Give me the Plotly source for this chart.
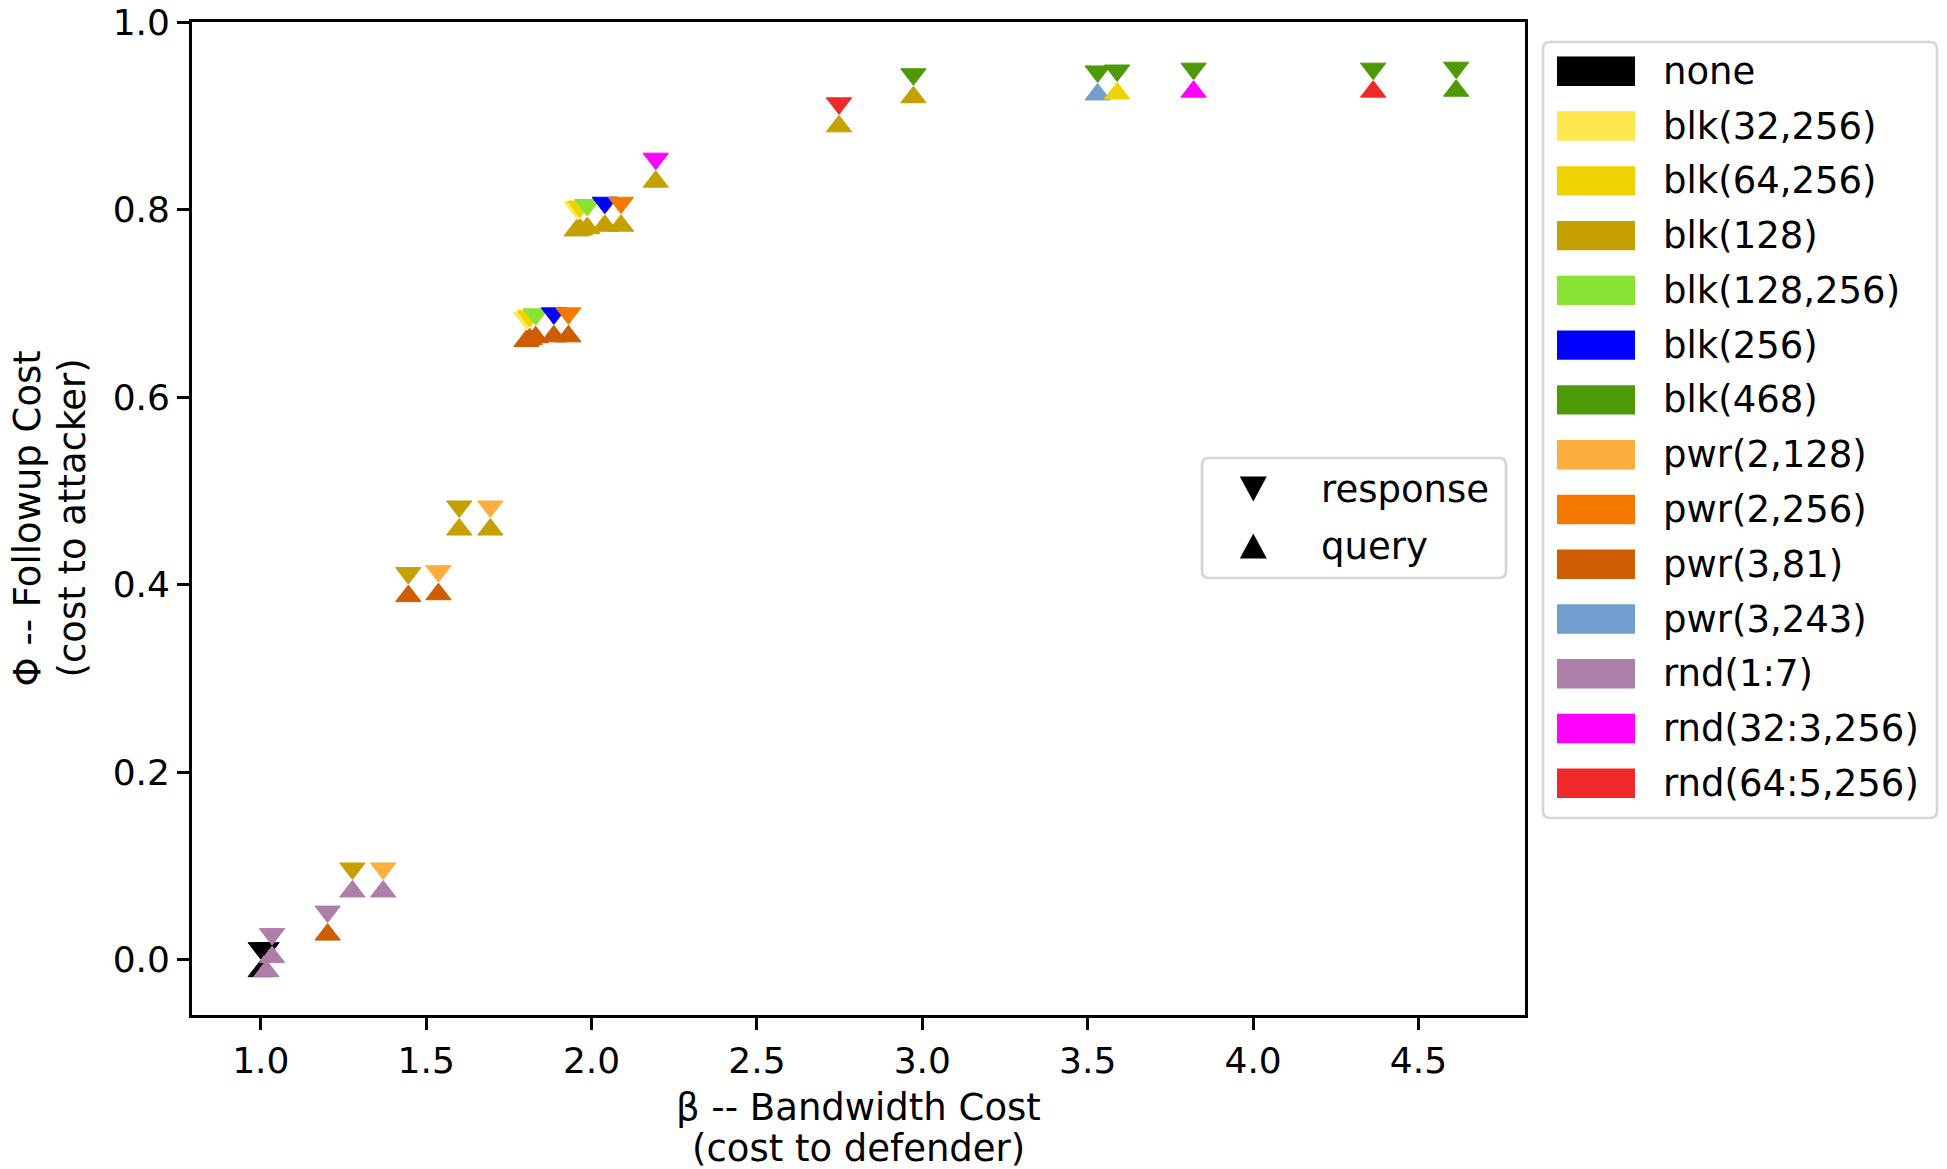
import plotly.graph_objects as go

# Padding schemes and their colours (Tango palette)
schemes = ["none", "blk(32,256)", "blk(64,256)", "blk(128)", "blk(128,256)",
           "blk(256)", "blk(468)", "pwr(2,128)", "pwr(2,256)", "pwr(3,81)",
           "pwr(3,243)", "rnd(1:7)", "rnd(32:3,256)", "rnd(64:5,256)"]
scheme_colors = ["#000000", "#fce94f", "#edd400", "#c4a000", "#8ae234",
                 "#0000ff", "#4e9a06", "#fcaf3e", "#f57900", "#ce5c00",
                 "#729fcf", "#ad7fa8", "#ff00ff", "#ef2929"]

# One entry per (response padding, query padding) combination
response_scheme = ["none", "none", "rnd(1:7)",
                   "rnd(1:7)", "blk(128)", "pwr(2,128)",
                   "blk(128)", "pwr(2,128)", "blk(128)", "pwr(2,128)",
                   "blk(32,256)", "blk(64,256)", "blk(128,256)", "blk(256)", "pwr(2,256)",
                   "blk(32,256)", "blk(64,256)", "blk(128,256)", "blk(256)", "pwr(2,256)",
                   "rnd(32:3,256)", "rnd(64:5,256)", "blk(468)",
                   "blk(468)", "blk(468)", "blk(468)", "blk(468)", "blk(468)"]
query_scheme = ["none", "rnd(1:7)", "rnd(1:7)",
                "pwr(3,81)", "rnd(1:7)", "rnd(1:7)",
                "pwr(3,81)", "pwr(3,81)", "blk(128)", "blk(128)",
                "pwr(3,81)", "pwr(3,81)", "pwr(3,81)", "pwr(3,81)", "pwr(3,81)",
                "blk(128)", "blk(128)", "blk(128)", "blk(128)", "blk(128)",
                "blk(128)", "blk(128)", "blk(128)",
                "pwr(3,243)", "blk(64,256)", "rnd(32:3,256)", "rnd(64:5,256)", "blk(468)"]
beta = [1.000, 1.017, 1.034,
        1.202, 1.277, 1.370,
        1.446, 1.537, 1.600, 1.694,
        1.803, 1.813, 1.831, 1.886, 1.930,
        1.955, 1.965, 1.987, 2.040, 2.089,
        2.194, 2.748, 2.973,
        3.530, 3.589, 3.820, 4.363, 4.614]
phi = [0.000, 0.000, 0.015,
       0.039, 0.085, 0.085,
       0.400, 0.402, 0.471, 0.471,
       0.672, 0.674, 0.676, 0.677, 0.677,
       0.790, 0.791, 0.7925, 0.795, 0.795,
       0.842, 0.901, 0.932,
       0.935, 0.936, 0.938, 0.938, 0.939]

x_ticks = [1.0, 1.5, 2.0, 2.5, 3.0, 3.5, 4.0, 4.5]
y_ticks = [0.0, 0.2, 0.4, 0.6, 0.8, 1.0]

# ---- layout geometry ----
W, H = 1947, 1169
ML, MR, MT, MB = 192, 422, 22, 154
X_RANGE = [0.792, 4.822]
Y_RANGE = [-0.059, 1.0]
PLOT_W = W - ML - MR
PLOT_H = H - MT - MB
PX_PER_Y = PLOT_H / (Y_RANGE[1] - Y_RANGE[0])

FONT = "DejaVu Sans"
MARKER_SIZE = 22
color_of = dict(zip(schemes, scheme_colors))


def px(x):
    return (x - ML) / PLOT_W


def py(y):
    return (H - MB - y) / PLOT_H


# caret-style markers: shift each triangle so that its apex sits on the point
apex = (MARKER_SIZE / 2 + 0.5) / PX_PER_Y
resp_colors = [color_of[s] for s in response_scheme]
query_colors = [color_of[s] for s in query_scheme]

fig = go.Figure()
fig.add_trace(go.Scatter(
    x=beta, y=[v + apex for v in phi], mode="markers", name="response",
    marker=dict(symbol="triangle-down", size=MARKER_SIZE, color=resp_colors,
                line=dict(width=1, color=resp_colors)),
    showlegend=False, cliponaxis=False))
fig.add_trace(go.Scatter(
    x=beta, y=[v - apex for v in phi], mode="markers", name="query",
    marker=dict(symbol="triangle-up", size=MARKER_SIZE, color=query_colors,
                line=dict(width=1, color=query_colors)),
    showlegend=False, cliponaxis=False))

shapes = []
annotations = []


def rounded_box(x0, y0, x1, y1, rad=7):
    # rounded rectangle in paper coordinates, given pixel corners
    rx, ry = rad / PLOT_W, rad / PLOT_H
    a, b, c, d = px(x0), px(x1), py(y1), py(y0)  # left, right, bottom, top
    path = (f"M{a + rx},{d} L{b - rx},{d} Q{b},{d} {b},{d - ry} "
            f"L{b},{c + ry} Q{b},{c} {b - rx},{c} L{a + rx},{c} "
            f"Q{a},{c} {a},{c + ry} L{a},{d - ry} Q{a},{d} {a + rx},{d} Z")
    return dict(type="path", xref="paper", yref="paper", path=path,
                fillcolor="rgba(255,255,255,0.8)",
                line=dict(color="#d6d6d6", width=2.7), layer="above")


# scheme colour legend
shapes.append(rounded_box(1543, 42, 1937, 818))
row0, row_step = 71.3, 54.77
for i, (name, col) in enumerate(zip(schemes, scheme_colors)):
    yc = row0 + i * row_step
    shapes.append(dict(type="rect", xref="paper", yref="paper",
                       x0=px(1557), x1=px(1635), y0=py(yc + 14.7), y1=py(yc - 14.7),
                       fillcolor=col, line=dict(width=0), layer="above"))
    annotations.append(dict(text=name, xref="paper", yref="paper",
                            x=px(1661), y=py(yc), xanchor="left", yanchor="middle",
                            showarrow=False, font=dict(family=FONT, size=37, color="black")))

# marker-direction legend
shapes.append(rounded_box(1202, 458, 1506, 578))
for yc, down, label in [(489, True, "response"), (546, False, "query")]:
    cx, hw, hh = 1253.3, 13.5, 12.5
    if down:
        pts = [(cx - hw, yc - hh), (cx + hw, yc - hh), (cx, yc + hh)]
    else:
        pts = [(cx - hw, yc + hh), (cx + hw, yc + hh), (cx, yc - hh)]
    path = "M" + " L".join(f"{px(a)},{py(b)}" for a, b in pts) + " Z"
    shapes.append(dict(type="path", xref="paper", yref="paper", path=path,
                       fillcolor="black", line=dict(width=0), layer="above"))
    annotations.append(dict(text=label, xref="paper", yref="paper",
                            x=px(1319), y=py(yc), xanchor="left", yanchor="middle",
                            showarrow=False, font=dict(family=FONT, size=37, color="black")))

# axis titles (two lines each)
for text, yc in [("β -- Bandwidth Cost", 1107), ("(cost to defender)", 1148)]:
    annotations.append(dict(text=text, xref="paper", yref="paper",
                            x=0.5, y=py(yc), xanchor="center", yanchor="middle",
                            showarrow=False, font=dict(family=FONT, size=37, color="black")))
for text, xc in [("Φ -- Followup Cost", 27), ("(cost to attacker)", 72)]:
    annotations.append(dict(text=text, xref="paper", yref="paper",
                            x=px(xc), y=0.5, xanchor="center", yanchor="middle",
                            textangle=-90, showarrow=False,
                            font=dict(family=FONT, size=37, color="black")))

axis_common = dict(showline=True, mirror=True, linecolor="black", linewidth=2.7,
                   ticks="outside", ticklen=12, tickwidth=2.7, tickcolor="black",
                   showgrid=False, zeroline=False, tickformat=".1f",
                   automargin=False,
                   tickfont=dict(family=FONT, size=36, color="black"))

fig.update_layout(
    width=W, height=H,
    margin=dict(l=ML, r=MR, t=MT, b=MB, autoexpand=False),
    paper_bgcolor="white", plot_bgcolor="white",
    xaxis=dict(range=X_RANGE, tickvals=x_ticks, **axis_common),
    yaxis=dict(range=Y_RANGE, tickvals=y_ticks, **axis_common),
    shapes=shapes, annotations=annotations,
    showlegend=False,
)

fig.write_html("out.html")
